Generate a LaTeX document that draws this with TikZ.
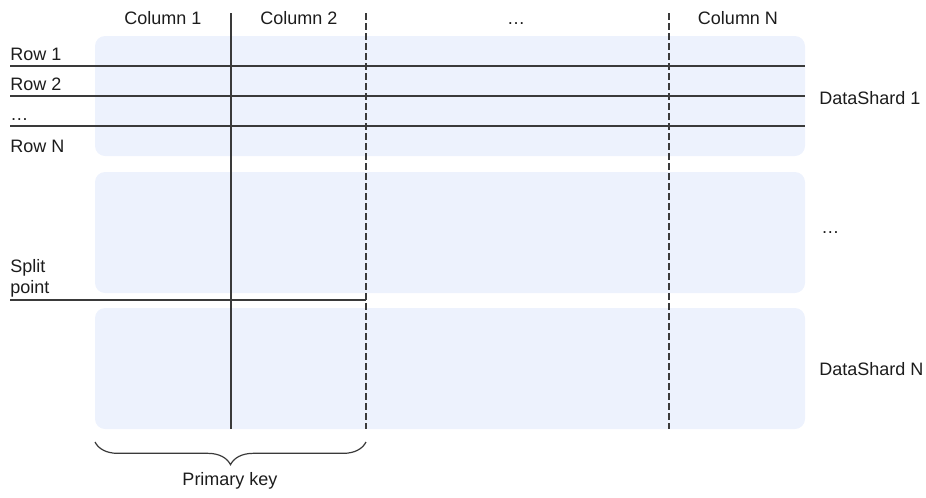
\documentclass[tikz,border=0pt]{standalone}
\usepackage{fontspec}
\setmainfont{Liberation Sans}
\usetikzlibrary{decorations.pathreplacing}
\definecolor{shardfill}{RGB}{237,242,253}
\definecolor{gridline}{RGB}{58,58,58}
\definecolor{labeltext}{RGB}{28,28,28}

\begin{document}
\begin{tikzpicture}[x=0.75pt,y=-0.75pt,
  every node/.style={font=\fontsize{13.5}{16}\selectfont, text=labeltext, inner sep=0pt},
  shard/.style={fill=shardfill, rounded corners=7.5pt},
  keyline/.style={draw=gridline, line width=1pt},
  colline/.style={draw=gridline, line width=1pt, dash pattern=on 5pt off 2.5pt}]
  \useasboundingbox (0,0) rectangle (926,497);
  % Shards
  \fill[shard] (95,36) rectangle (805,156);
  \fill[shard] (95,172) rectangle (805,293);
  \fill[shard] (95,308) rectangle (805,429);
  % Rows
  \foreach \y in {66,96,126} \draw[keyline] (10,\y) -- (805,\y);
  % Split point
  \draw[keyline] (10,300) -- (366,300);
  % Columns
  \draw[keyline] (231,13) -- (231,429);
  \draw[colline] (366,13) -- (366,429);
  \draw[colline] (669,13) -- (669,429);
  % Column labels
  \node[anchor=base] (col1) at (163,24) {Column 1};
  \node[anchor=base] (col2) at (299,24) {Column 2};
  \node[anchor=base] (coldots) at (516,24) {…};
  \node[anchor=base] (colN) at (738,24) {Column N};
  % Row labels
  \node[anchor=base west] (row1) at (10,60) {Row 1};
  \node[anchor=base west] (row2) at (10,90) {Row 2};
  \node[anchor=base west] (rowdots) at (10,120) {…};
  \node[anchor=base west] (rowN) at (10,152) {Row N};
  \node[anchor=base west] (split) at (10,272) {Split};
  \node[anchor=base west] (point) at (10,293) {point};
  % Shard labels
  \node[anchor=base west] (shard1) at (819,104) {DataShard 1};
  \node[anchor=base west] (sharddots) at (821,233) {…};
  \node[anchor=base west] (shardN) at (819,375) {DataShard N};
  % Primary key brace
  \draw[keyline, line width=0.9pt, decorate, decoration={brace, mirror, amplitude=17pt}] (95,442) -- (366,442);
  \node[anchor=base] (pkey) at (230,485) {Primary key};
\end{tikzpicture}
\end{document}
